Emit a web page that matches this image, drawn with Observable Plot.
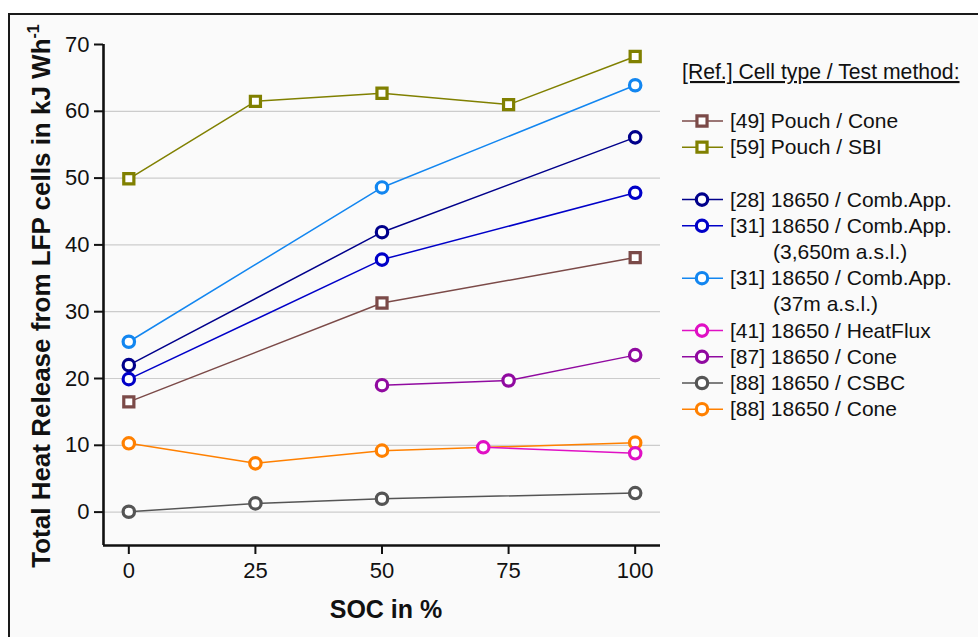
<!DOCTYPE html>
<html>
<head>
<meta charset="utf-8">
<script src="https://cdn.jsdelivr.net/npm/d3@7"></script>
<script src="https://cdn.jsdelivr.net/npm/@observablehq/plot@0.6"></script>
<style>
  html, body { margin: 0; padding: 0; background: #ffffff; width: 978px; height: 637px; overflow: hidden; }
  #frame { position: absolute; left: 7.5px; top: 12.5px; width: 1000px; height: 700px;
           border-top: 2.5px solid #1a1a1a; border-left: 2.5px solid #1a1a1a; background: #fafafa; }
  #chart { position: absolute; left: 0; top: 0; }
  #chart svg { background: transparent; overflow: visible; }
</style>
</head>
<body>
<div id="frame"></div>
<div id="chart"></div>
<script>
// ---- data ----
const seriesNames = [
  "[49] Pouch / Cone",
  "[59] Pouch / SBI",
  "[28] 18650 / Comb.App.",
  "[31] 18650 / Comb.App. (3,650m a.s.l.)",
  "[31] 18650 / Comb.App. (37m a.s.l.)",
  "[41] 18650 / HeatFlux",
  "[87] 18650 / Cone",
  "[88] 18650 / CSBC",
  "[88] 18650 / Cone"
];
const legendLines = [
  ["[49] Pouch / Cone"],
  ["[59] Pouch / SBI"],
  ["[28] 18650 / Comb.App."],
  ["[31] 18650 / Comb.App.", "(3,650m a.s.l.)"],
  ["[31] 18650 / Comb.App.", "(37m a.s.l.)"],
  ["[41] 18650 / HeatFlux"],
  ["[87] 18650 / Cone"],
  ["[88] 18650 / CSBC"],
  ["[88] 18650 / Cone"]
];
const legendTitle = "[Ref.] Cell type / Test method:";
const seriesColors = ["#7b4a48", "#808000", "#00008b", "#0000c8", "#1286f0", "#e010c4", "#900aa0", "#555555", "#ff8000"];
const seriesSymbols = ["square", "square", "circle", "circle", "circle", "circle", "circle", "circle", "circle"];
const seriesSOC = [
  [0, 50, 100],
  [0, 25, 50, 75, 100],
  [0, 50, 100],
  [0, 50, 100],
  [0, 50, 100],
  [70, 100],
  [50, 75, 100],
  [0, 25, 50, 100],
  [0, 25, 50, 100]
];
const seriesTHR = [
  [16.5, 31.3, 38.1],
  [49.9, 61.5, 62.7, 61.0, 68.2],
  [22.0, 41.9, 56.1],
  [19.9, 37.8, 47.8],
  [25.5, 48.6, 63.9],
  [9.7, 8.8],
  [19.0, 19.7, 23.5],
  [0.05, 1.3, 2.0, 2.85],
  [10.3, 7.3, 9.2, 10.4]
];
const xTicks = [0, 25, 50, 75, 100];
const yTicks = [0, 10, 20, 30, 40, 50, 60, 70];
const yGrid = [0, 10, 20, 30, 40, 50, 60];
const xLabel = "SOC in %";
const yLabel = "Total Heat Release from LFP cells in kJ Wh";
const yLabelSup = "-1";
const drawOrder = [0, 1, 2, 3, 4, 6, 7, 8, 5];

// ---- build table ----
const rows = drawOrder.flatMap(i => seriesSOC[i].map((x, j) => ({
  series: seriesNames[i], x, y: seriesTHR[i][j], color: seriesColors[i], symbol: seriesSymbols[i]
})));

const font = "'Liberation Sans', Arial, Helvetica, sans-serif";
const W = 978, H = 637;
const mL = 103, mR = 318, mT = 44, mB = 92;

const plot = Plot.plot({
  width: W, height: H,
  marginLeft: mL, marginRight: mR, marginTop: mT, marginBottom: mB,
  style: { fontFamily: font, fontSize: "22px", color: "#111", background: "transparent" },
  x: { domain: [-5, 105] },
  y: { domain: [-5, 70] },
  marks: [
    Plot.gridY(yGrid, { stroke: "#cccccc", strokeOpacity: 1, strokeWidth: 1.2 }),
    Plot.axisX(xTicks, { tickSize: 9, tickPadding: 8, strokeWidth: 2, label: null }),
    Plot.axisY(yTicks, { tickSize: 9, tickPadding: 5, strokeWidth: 2, label: null }),
    Plot.ruleX([-5], { stroke: "#111", strokeWidth: 2.6 }),
    Plot.ruleY([-5], { stroke: "#111", strokeWidth: 2.6 }),
    Plot.line(rows, { x: "x", y: "y", z: "series", stroke: "color", strokeWidth: 1.5 }),
    Plot.dot(rows, { x: "x", y: "y", stroke: "color", symbol: "symbol", fill: "white", r: 5.7, strokeWidth: 3.2 })
  ]
});
document.getElementById("chart").appendChild(plot);

// ---- tick label size ----
const svg = d3.select(plot);
svg.selectAll('g[aria-label="x-axis tick label"], g[aria-label="y-axis tick label"]')
  .attr("font-size", null).style("font-size", "22px");
svg.selectAll('g[aria-label="x-axis tick label"] text, g[aria-label="y-axis tick label"] text')
  .style("font-size", "22px");

// ---- axis titles and legend ----
svg.append("text")
  .attr("x", 386).attr("y", 618)
  .attr("text-anchor", "middle")
  .attr("font-family", font).attr("font-weight", "bold").attr("font-size", 25)
  .attr("fill", "#111")
  .text(xLabel);

const yl = svg.append("text")
  .attr("transform", "translate(50,296) rotate(-90)")
  .attr("text-anchor", "middle")
  .attr("font-family", font).attr("font-weight", "bold").attr("font-size", 26)
  .attr("fill", "#111");
yl.append("tspan").text(yLabel);
yl.append("tspan").attr("font-size", 16).attr("dy", -11).text(yLabelSup);

const lg = svg.append("g").attr("font-family", font).attr("fill", "#111").attr("text-anchor", "start");
lg.append("text")
  .attr("x", 682).attr("y", 79)
  .style("font-size", "21.2px")
  .attr("text-decoration", "underline")
  .text(legendTitle);

const rowY0 = 121, rowStep = 26.2;
let rowIdx = 0;
legendLines.forEach((lines, i) => {
  if (i === 2) rowIdx += 1; // gap between groups
  const cy = rowY0 + rowIdx * rowStep;
  const g = lg.append("g");
  g.append("line").attr("x1", 682).attr("x2", 723).attr("y1", cy).attr("y2", cy)
    .attr("stroke", seriesColors[i]).attr("stroke-width", 1.5);
  const sym = d3.symbol().type(seriesSymbols[i] === "square" ? d3.symbolSquare : d3.symbolCircle).size(Math.PI * 5.7 * 5.7);
  g.append("path").attr("d", sym()).attr("transform", `translate(702,${cy})`)
    .attr("fill", "white").attr("stroke", seriesColors[i]).attr("stroke-width", 3.2);
  lines.forEach((t, k) => {
    g.append("text")
      .attr("x", k === 0 ? 730 : 773)
      .attr("y", cy + k * rowStep + 7)
      .style("font-size", "21px")
      .text(t);
  });
  rowIdx += lines.length;
});
</script>
</body>
</html>
